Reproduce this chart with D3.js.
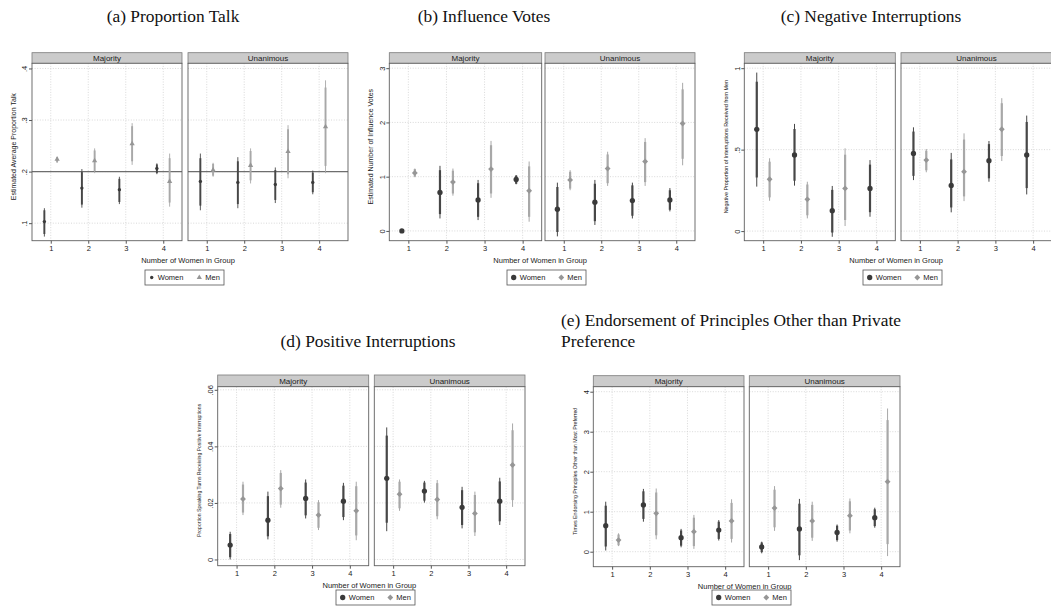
<!DOCTYPE html>
<html>
<head>
<meta charset="utf-8">
<script src="https://cdn.jsdelivr.net/npm/d3@7"></script>
<style>
  body { margin: 0; background: #fff; }
  text { font-family: "Liberation Sans", Arial, sans-serif; fill: #222; }
  .ptitle { font-family: "Liberation Serif", "DejaVu Serif", serif; font-size: 17.4px; fill: #111; }
</style>
</head>
<body>
<svg id="fig" width="1051" height="606"></svg>
<script>
const facets = ["Majority", "Unanimous"];
const groups = ["Women", "Men"];
const womenInGroup = [1, 2, 3, 4];

const panelTitles = [
  ["(a) Proportion Talk"],
  ["(b) Influence Votes"],
  ["(c) Negative Interruptions"],
  ["(d) Positive Interruptions"],
  ["(e) Endorsement of Principles Other than Private", "Preference"]
];
const yTitles = [
  "Estimated Average Proportion Talk",
  "Estimated Number of Influence Votes",
  "Negative Proportion of Interruptions Received from Men",
  "Proportion Speaking Turns Receiving Positive Interruptions",
  "Times Endorsing Principles Other than Most Preferred"
];
const xTitle = "Number of Women in Group";

// rows: facet, group (0 women, 1 men), women in group, estimate, lo95, hi95, lo90, hi90
const talk = [
  [0,0,1,.103,.074,.129,.079,.125],
  [0,1,1,.224,.217,.229,.218,.228],
  [0,0,2,.168,.130,.205,.136,.199],
  [0,1,2,.221,.197,.245,.201,.241],
  [0,0,3,.165,.137,.190,.141,.186],
  [0,1,3,.254,.213,.294,.220,.288],
  [0,0,4,.206,.195,.216,.197,.214],
  [0,1,4,.181,.132,.235,.140,.226],
  [1,0,1,.181,.125,.235,.134,.226],
  [1,1,1,.203,.190,.217,.192,.215],
  [1,0,2,.179,.129,.228,.137,.220],
  [1,1,2,.212,.177,.245,.183,.240],
  [1,0,3,.175,.139,.208,.145,.203],
  [1,1,3,.239,.187,.290,.195,.282],
  [1,0,4,.179,.156,.202,.160,.198],
  [1,1,4,.287,.197,.377,.211,.363]
];
const votes = [
  [0,0,1,0,null,null,null,null],
  [0,1,1,1.07,.99,1.15,1.00,1.14],
  [0,0,2,.71,.23,1.20,.31,1.12],
  [0,1,2,.90,.65,1.15,.69,1.11],
  [0,0,3,.57,.20,.94,.26,.88],
  [0,1,3,1.14,.61,1.66,.69,1.58],
  [0,0,4,.95,.86,1.03,.87,1.02],
  [0,1,4,.74,.17,1.28,.26,1.19],
  [1,0,1,.40,-.10,.89,-.02,.81],
  [1,1,1,.94,.75,1.12,.78,1.09],
  [1,0,2,.53,.11,.94,.18,.87],
  [1,1,2,1.15,.83,1.46,.88,1.41],
  [1,0,3,.56,.23,.89,.28,.84],
  [1,1,3,1.28,.83,1.71,.90,1.64],
  [1,0,4,.57,.36,.79,.39,.75],
  [1,1,4,1.98,1.21,2.73,1.33,2.61]
];
const negInterrupt = [
  [0,0,1,.625,.273,.973,.329,.917],
  [0,1,1,.318,.186,.447,.207,.426],
  [0,0,2,.467,.279,.658,.309,.627],
  [0,1,2,.195,.078,.303,.097,.286],
  [0,0,3,.125,-.035,.277,-.009,.253],
  [0,1,3,.262,.031,.508,.068,.469],
  [0,0,4,.262,.088,.436,.116,.408],
  [1,0,1,.477,.313,.637,.339,.611],
  [1,1,1,.436,.361,.504,.373,.493],
  [1,0,2,.280,.115,.480,.145,.440],
  [1,1,2,.365,.184,.600,.213,.562],
  [1,0,3,.432,.303,.553,.324,.534],
  [1,1,3,.625,.430,.816,.461,.785],
  [1,0,4,.467,.225,.709,.264,.670]
];
const posInterrupt = [
  [0,0,1,.0051,0,.0098,.0008,.0090],
  [0,1,1,.0214,.0157,.0275,.0166,.0265],
  [0,0,2,.0139,.0071,.0240,.0082,.0224],
  [0,1,2,.0251,.0183,.0316,.0194,.0306],
  [0,0,3,.0216,.0145,.0283,.0156,.0272],
  [0,1,3,.0157,.0104,.0210,.0112,.0202],
  [0,0,4,.0206,.0139,.0271,.0150,.0261],
  [0,1,4,.0172,.0068,.0275,.0085,.0259],
  [1,0,1,.0287,.0100,.0467,.0130,.0438],
  [1,1,1,.0231,.0172,.0283,.0181,.0275],
  [1,0,2,.0242,.0201,.0278,.0208,.0272],
  [1,1,2,.0212,.0142,.0281,.0153,.0270],
  [1,0,3,.0184,.0110,.0257,.0122,.0245],
  [1,1,3,.0163,.0083,.0240,.0096,.0228],
  [1,0,4,.0206,.0122,.0289,.0135,.0276],
  [1,1,4,.0334,.0186,.0481,.0210,.0457]
];
const endorse = [
  [0,0,1,.65,.03,1.25,.13,1.15],
  [0,1,1,.29,.14,.46,.16,.43],
  [0,0,2,1.17,.75,1.57,.82,1.51],
  [0,1,2,.96,.31,1.58,.41,1.48],
  [0,0,3,.35,.11,.57,.15,.53],
  [0,1,3,.50,.07,.92,.14,.85],
  [0,0,4,.54,.28,.79,.32,.75],
  [0,1,4,.77,.23,1.31,.32,1.22],
  [1,0,1,.12,-.04,.25,-.01,.23],
  [1,1,1,1.09,.52,1.64,.61,1.55],
  [1,0,2,.57,-.21,1.32,-.09,1.20],
  [1,1,2,.77,.27,1.25,.35,1.17],
  [1,0,3,.48,.25,.68,.29,.65],
  [1,1,3,.90,.46,1.33,.53,1.26],
  [1,0,4,.85,.60,1.10,.64,1.06],
  [1,1,4,1.75,-.11,3.58,.19,3.29]
];

const talkTicks = [.1, .2, .3, .4];
const talkTickLabels = [".1", ".2", ".3", ".4"];
const votesTicks = [0, 1, 2, 3];
const votesTickLabels = ["0", "1", "2", "3"];
const negTicks = [0, .5, 1];
const negTickLabels = ["0", ".5", "1"];
const posTicks = [0, .02, .04, .06];
const posTickLabels = ["0", ".02", ".04", ".06"];
const endorseTicks = [0, 1, 2, 3, 4];
const endorseTickLabels = ["0", "1", "2", "3", "4"];

// layout of each sub figure
const panels = [
  {data: talk, ticks: talkTicks, labels: talkTickLabels, yDomain: [0.066, 0.41], ref: 0.2, small: true,
   fx: [[32, 182], [188, 348]], xmax: [4.5, 4.77], top: 52.7, head: 10.6, bottom: 240.7,
   yTitleSize: 7, titleX: 173, titleY: 22, legendX: 145, legendY: 270},
  {data: votes, ticks: votesTicks, labels: votesTickLabels, yDomain: [-0.18, 3.09],
   fx: [[389.3, 541.7], [545, 695]], xmax: [4.5, 4.5], top: 52.7, head: 10.6, bottom: 240.7,
   yTitleSize: 7, titleX: 484, titleY: 22, legendX: 507, legendY: 270},
  {data: negInterrupt, ticks: negTicks, labels: negTickLabels, yDomain: [-0.059, 1.03],
   fx: [[744.3, 895.3], [901, 1052]], xmax: [4.5, 4.5], top: 52.7, head: 10.6, bottom: 240.7,
   yTitleSize: 5.4, titleX: 871, titleY: 22, legendX: 863, legendY: 270},
  {data: posInterrupt, ticks: posTicks, labels: posTickLabels, yDomain: [-0.0022, 0.0611],
   fx: [[217.7, 368.7], [374.3, 525]], xmax: [4.5, 4.5], top: 375, head: 11.7, bottom: 565.7,
   yTitleSize: 5.1, titleX: 368, titleY: 347, legendX: 336, legendY: 590},
  {data: endorse, ticks: endorseTicks, labels: endorseTickLabels, yDomain: [-0.375, 4.125],
   fx: [[593.3, 744], [749.3, 900]], xmax: [4.5, 4.5], top: 375.7, head: 11, bottom: 566.7,
   yTitleSize: 5.3, titleX: 561, titleY: 326, titleAnchor: "start", legendX: 712, legendY: 590}
];

const markColor = ["#3a3a3a", "#969696"];
const barColor = ["#474747", "#a8a8a8"];
const offset = [-0.17, 0.17];

const svg = d3.select("#fig");

function marker(sel, group, small) {
  if (small) {
    sel.append("path")
      .attr("d", d3.symbol().type(group === 0 ? d3.symbolCircle : d3.symbolTriangle).size(group === 0 ? 9 : 12)())
      .attr("fill", markColor[group]);
  } else if (group === 0) {
    sel.append("path").attr("d", d3.symbol().type(d3.symbolCircle).size(22)()).attr("fill", markColor[0]);
  } else {
    sel.append("path").attr("d", d3.symbol().type(d3.symbolSquare).size(17)())
      .attr("transform", "rotate(45)").attr("fill", markColor[1]);
  }
}

panels.forEach((p, pi) => {
  const g = svg.append("g");

  // panel title
  panelTitles[pi].forEach((line, li) => {
    g.append("text").attr("class", "ptitle")
      .attr("x", p.titleX).attr("y", p.titleY + li * 21)
      .attr("text-anchor", p.titleAnchor || "middle")
      .text(line);
  });

  const plotTop = p.top + p.head;
  const y = d3.scaleLinear().domain(p.yDomain).range([p.bottom, plotTop]);

  p.fx.forEach(([x0, x1], f) => {
    const x = d3.scaleLinear().domain([0.5, p.xmax[f]]).range([x0, x1]);
    const fg = g.append("g");

    // strip
    fg.append("rect").attr("x", x0).attr("y", p.top).attr("width", x1 - x0).attr("height", p.head)
      .attr("fill", "#cbcbcb").attr("stroke", "#7a7a7a").attr("stroke-width", 0.8);
    fg.append("text").attr("x", (x0 + x1) / 2).attr("y", p.top + p.head / 2 + 2.8)
      .attr("text-anchor", "middle").attr("font-size", 8).attr("fill", "#1a1a1a").text(facets[f]);

    // plot area
    fg.append("rect").attr("x", x0).attr("y", plotTop).attr("width", x1 - x0).attr("height", p.bottom - plotTop)
      .attr("fill", "#fff");

    // grid
    fg.selectAll(".vg").data(womenInGroup).join("line")
      .attr("x1", d => x(d)).attr("x2", d => x(d)).attr("y1", plotTop).attr("y2", p.bottom)
      .attr("stroke", "#cfcfcf").attr("stroke-width", 0.8).attr("stroke-dasharray", "1,1.6");
    fg.selectAll(".hg").data(p.ticks).join("line")
      .attr("x1", x0).attr("x2", x1).attr("y1", d => y(d)).attr("y2", d => y(d))
      .attr("stroke", "#cfcfcf").attr("stroke-width", 0.8).attr("stroke-dasharray", "1,1.6");

    if (p.ref !== undefined) {
      fg.append("line").attr("x1", x0).attr("x2", x1).attr("y1", y(p.ref)).attr("y2", y(p.ref))
        .attr("stroke", "#6e6e6e").attr("stroke-width", 1.1);
    }

    fg.append("rect").attr("x", x0).attr("y", plotTop).attr("width", x1 - x0).attr("height", p.bottom - plotTop)
      .attr("fill", "none").attr("stroke", "#5f5f5f").attr("stroke-width", 0.9);

    // x axis
    const xa = fg.append("g").attr("transform", `translate(0,${p.bottom})`)
      .call(d3.axisBottom(x).tickValues(womenInGroup).tickFormat(d3.format("d")).tickSize(3).tickPadding(1.5));
    xa.select(".domain").remove();
    xa.selectAll("line").attr("stroke", "#555");
    xa.selectAll("text").attr("font-size", 7.5).attr("fill", "#222")
      .attr("font-family", "'Liberation Sans', Arial, sans-serif");

    // y axis on left facet
    if (f === 0) {
      const ya = fg.append("g").attr("transform", `translate(${x0},0)`)
        .call(d3.axisLeft(y).tickValues(p.ticks).tickFormat((d, i) => p.labels[i]).tickSize(3));
      ya.select(".domain").remove();
      ya.selectAll("line").attr("stroke", "#555");
      ya.selectAll("text").attr("font-size", 7.5).attr("fill", "#222")
        .attr("font-family", "'Liberation Sans', Arial, sans-serif")
        .attr("x", null).attr("dy", null).attr("text-anchor", "middle")
        .attr("transform", "translate(-4.8,0) rotate(-90)");
    }

    // error bars and markers
    const rows = p.data.filter(r => r[0] === f);
    rows.forEach(r => {
      const [, grp, n, est, lo95, hi95, lo90, hi90] = r;
      const cx = x(n + offset[grp]);
      if (lo95 !== null) {
        fg.append("line").attr("x1", cx).attr("x2", cx).attr("y1", y(lo95)).attr("y2", y(hi95))
          .attr("stroke", barColor[grp]).attr("stroke-width", p.small ? 0.9 : 1);
        fg.append("line").attr("x1", cx).attr("x2", cx).attr("y1", y(lo90)).attr("y2", y(hi90))
          .attr("stroke", barColor[grp]).attr("stroke-width", p.small ? 1.9 : 2.2);
      }
      const m = fg.append("g").attr("transform", `translate(${cx},${y(est)})`);
      marker(m, grp, p.small);
    });
  });

  // y title
  const left = p.fx[0][0];
  g.append("text")
    .attr("transform", `translate(${left - 16.5},${(p.top + p.bottom) / 2}) rotate(-90)`)
    .attr("text-anchor", "middle").attr("font-size", p.yTitleSize).attr("fill", "#222").text(yTitles[pi]);

  // x title
  const spanMid = (p.fx[0][0] + p.fx[1][1]) / 2;
  g.append("text").attr("x", spanMid - 2).attr("y", p.bottom + 22)
    .attr("text-anchor", "middle").attr("font-size", 7.5).attr("fill", "#222").text(xTitle);

  // legend
  const lg = g.append("g").attr("transform", `translate(${p.legendX},${p.legendY})`);
  lg.append("rect").attr("width", 79).attr("height", 15).attr("fill", "#fff")
    .attr("stroke", "#555").attr("stroke-width", 0.8);
  groups.forEach((name, gi) => {
    const mx = gi === 0 ? 6.7 : 54.3;
    const mg = lg.append("g").attr("transform", `translate(${mx},7.5)`);
    marker(mg, gi, p.small);
    lg.append("text").attr("x", mx + 6).attr("y", 10.3).attr("font-size", 7.5).attr("fill", "#222").text(name);
  });
});
</script>
</body>
</html>
